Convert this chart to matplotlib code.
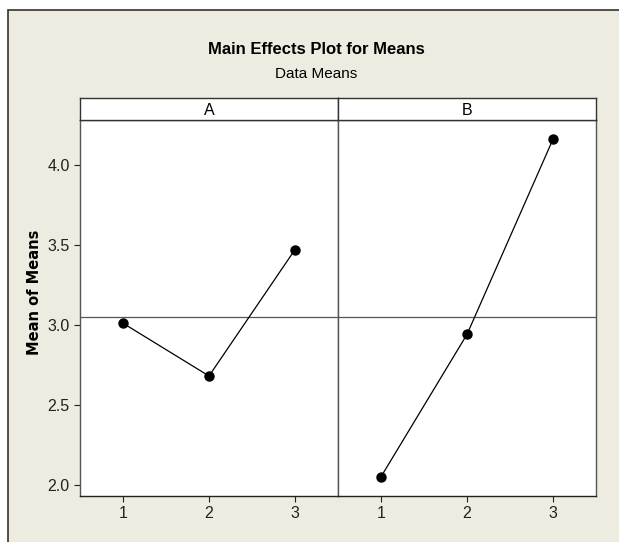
import matplotlib
matplotlib.use('Agg')
from matplotlib import pyplot as plt
from matplotlib.patches import Rectangle

matplotlib.rcParams['font.family'] = ['Liberation Sans', 'DejaVu Sans']

levels = [1, 2, 3]
factors = ['A', 'B']
means_a = [3.01, 2.68, 3.47]
means_b = [2.05, 2.94, 4.16]
grand_mean = 3.05
yticks = [2.0, 2.5, 3.0, 3.5, 4.0]

W, H = 619, 542
fig = plt.figure(figsize=(W / 100, H / 100), dpi=100, facecolor='white')

# beige frame around the whole thing
fig.patches.append(Rectangle((8 / W, -0.01), 1.0, 1 - 10 / H + 0.01,
                             transform=fig.transFigure, facecolor='#EEEBE0',
                             edgecolor='#333333', linewidth=1.2, zorder=-10))

left, mid, right = 80 / W, 338 / W, 596 / W
bottom, top = 1 - 496 / H, 1 - 120 / H
strip_h = 22 / H

axes = []
for i, (name, vals) in enumerate(zip(factors, [means_a, means_b])):
    x0 = left if i == 0 else mid
    w = (mid - left) if i == 0 else (right - mid)
    ax = fig.add_axes([x0, bottom, w, top - bottom], zorder=2)
    ax.set_facecolor('white')
    ax.plot(levels, vals, color='black', lw=0.9, marker='o', ms=6.5,
            mfc='black', mec='black', zorder=3)
    ax.axhline(grand_mean, color='#555555', lw=0.9, zorder=2)
    ax.set_xlim(0.5, 3.5)
    ax.set_ylim(1.93, 4.28)
    ax.set_xticks(levels)
    ax.set_yticks(yticks)
    ax.tick_params(direction='out', length=4, width=0.8, labelsize=11.5, colors='#222222')
    for s in ax.spines.values():
        s.set_color('#555555')
        s.set_linewidth(1.0)
    ax.spines['bottom'].set_color('#222222')
    if i == 0:
        ax.set_yticklabels([f'{t:.1f}' for t in yticks])
        ax.set_ylabel('Mean of Means', family='DejaVu Sans', fontweight='bold',
                      fontsize=10.5)
        ax.yaxis.set_label_coords(-0.147, 0.543)
    else:
        ax.tick_params(axis='y', left=False, labelleft=False)

    # strip header
    sax = fig.add_axes([x0, top, w, strip_h], zorder=2)
    sax.set_facecolor('white')
    sax.set_xticks([])
    sax.set_yticks([])
    for s in sax.spines.values():
        s.set_color('#333333')
        s.set_linewidth(1.0)
    sax.text(0.5, 0.45, name, ha='center', va='center', fontsize=11.5,
             transform=sax.transAxes)
    axes.append(ax)

fig.text(316 / W, 1 - 49 / H, 'Main Effects Plot for Means',
         ha='center', va='center', fontsize=12, fontweight='bold')
fig.text(316 / W, 1 - 74 / H, 'Data Means',
         ha='center', va='center', fontsize=11)

fig.savefig('out.png', dpi=100, facecolor='white')
